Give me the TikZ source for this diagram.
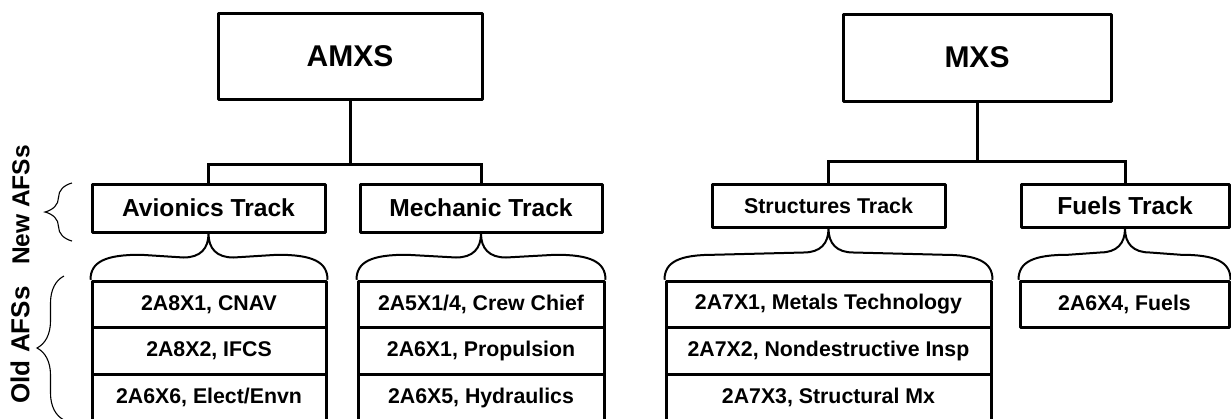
\documentclass[tikz,border=0pt]{standalone}
\usepackage{fontspec}
\setmainfont{Liberation Sans}
\usetikzlibrary{calc,decorations.pathreplacing}
\begin{document}
\begin{tikzpicture}[x=1pt,y=-1pt,
  box/.style={draw,line width=3pt,line join=round,inner sep=0pt,fill=white,font=\bfseries},
  topbox/.style={box,font=\fontsize{30}{34}\selectfont\bfseries},
  trackbox/.style={box,minimum height=48pt,font=\fontsize{24.6}{28}\selectfont\bfseries},
  rowbox/.style={box,minimum height=46.5pt,font=\fontsize{21.3}{25}\selectfont\bfseries},
  conn/.style={line width=3pt},
  tbrace/.style={line width=2pt},
  sbrace/.style={line width=1.1pt,decorate,decoration={brace,amplitude=27pt}},
  sidelabel/.style={rotate=90,font=\fontsize{24.5}{28}\selectfont\bfseries}]
\useasboundingbox (0,0) rectangle (1231,418);

% top boxes
\node[topbox,minimum width=264pt,minimum height=86pt] (amxs) at (350,56) {AMXS};
\node[topbox,minimum width=268pt,minimum height=87pt] (mxs) at (977,57.5) {MXS};

% tracks
\node[trackbox,minimum width=233pt] (avi) at (208.5,208) {Avionics Track};
\node[trackbox,minimum width=242pt] (mech) at (481,208) {Mechanic Track};
\node[trackbox,minimum width=233pt,minimum height=43pt,font=\fontsize{21.4}{25}\selectfont\bfseries] (str) at (828.5,205.5) {Structures Track};
\node[trackbox,minimum width=208pt,minimum height=43pt] (fue) at (1125,205.5) {Fuels Track};

% AMXS connectors
\draw[conn] (amxs.south) -- ++(0,64) coordinate (j1);
\draw[conn] (avi.north) |- (j1) -| (mech.north);
% MXS connectors
\draw[conn] (mxs.south) -- ++(0,59) coordinate (j2);
\draw[conn] (str.north) |- (j2) -| (fue.north);

% lists
\node[rowbox,minimum width=234pt] (a1) at (209,304.5) {2A8X1, CNAV};
\node[rowbox,minimum width=234pt] (a2) at (209,351) {2A8X2, IFCS};
\node[rowbox,minimum width=234pt] (a3) at (209,397.5) {2A6X6, Elect/Envn};

\node[rowbox,minimum width=246pt] (m1) at (481,304.5) {2A5X1/4, Crew Chief};
\node[rowbox,minimum width=246pt] (m2) at (481,351) {2A6X1, Propulsion};
\node[rowbox,minimum width=246pt] (m3) at (481,397.5) {2A6X5, Hydraulics};

\node[rowbox,minimum width=325pt] (s1) at (828.5,304.5) {2A7X1, Metals Technology};
\node[rowbox,minimum width=325pt] (s2) at (828.5,351) {2A7X2, Nondestructive Insp};
\node[rowbox,minimum width=325pt] (s3) at (828.5,397.5) {2A7X3, Structural Mx};

\node[rowbox,minimum width=209pt] (f1) at (1124.5,304.5) {2A6X4, Fuels};

% braces between tracks and lists
\newcommand\trackbrace[2]{%
  \draw[tbrace] (#2.north west) .. controls +(0,-18) and +(-35,0) .. ++(50,-25)
    -- ($(#1.south)+(-25,24)$) .. controls +(17,0) and +(0,15) .. (#1.south)
    .. controls +(0,15) and +(-17,0) .. ++(25,24)
    -- ($(#2.north east)+(-50,-25)$) .. controls +(35,0) and +(0,-18) .. (#2.north east);}
\trackbrace{avi}{a1}
\trackbrace{mech}{m1}
\trackbrace{str}{s1}
\trackbrace{fue}{f1}

% side braces and labels
\coordinate (nb1) at (72,241);
\coordinate (nb2) at (72,183);
\coordinate (ob1) at (64,420);
\coordinate (ob2) at (64,276);
\draw[sbrace] (nb1) -- (nb2);
\draw[sbrace] (ob1) -- (ob2);
\node[sidelabel] (newl) at (21,205) {New AFSs};
\node[sidelabel,font=\fontsize{26}{30}\selectfont\bfseries] (oldl) at (20,345) {Old AFSs};
\end{tikzpicture}
\end{document}
